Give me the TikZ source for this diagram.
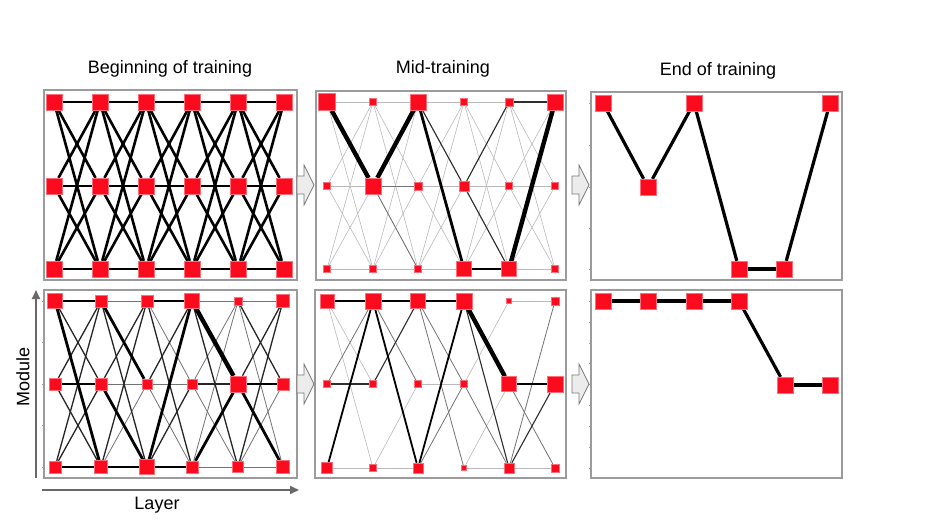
\documentclass[tikz,border=0pt]{standalone}
\usepackage{fontspec}
\setmainfont{Liberation Sans}
\usetikzlibrary{backgrounds,arrows.meta}
\definecolor{nred}{RGB}{250,12,30}
\definecolor{nrededge}{RGB}{255,110,120}
\definecolor{framegray}{RGB}{155,155,155}
\definecolor{axgray}{RGB}{105,105,105}
\definecolor{arrfill}{RGB}{236,236,236}
\definecolor{arrdraw}{RGB}{120,120,120}
\newcommand\blockarr[2]{\draw[blockarrow] (#1,#2) ++(0,-9) -- ++(7,0) -- ++(0,-11) -- ++(10,20) -- ++(-10,20) -- ++(0,-11) -- ++(-7,0) -- cycle;}
\begin{document}
\begin{tikzpicture}[x=1pt,y=-1pt,
  sq/.style={rectangle,fill=nred,draw=nrededge,line width=0.4pt,inner sep=0pt,minimum size=#1},
  l0/.style={draw=black!27,line width=0.6pt},
  l1/.style={draw=black!55,line width=0.8pt},
  l2/.style={draw=black!82,line width=1.1pt},
  l2d/.style={draw=black!85,line width=1.3pt},
  l3/.style={draw=black,line width=1.8pt},
  l4/.style={draw=black,line width=2.8pt},
  l5/.style={draw=black,line width=4.4pt},
  lfull/.style={draw=black,line width=2.6pt},
  lend/.style={draw=black,line width=3.2pt},
  panel/.style={draw=framegray,line width=1.2pt},
  tick/.style={draw=framegray,line width=0.6pt},
  blockarrow/.style={fill=arrfill,draw=arrdraw,line width=0.7pt,line join=miter},
  axis/.style={draw=axgray,line width=1.8pt,-{Triangle[length=9pt,width=8pt]}},
  title/.style={font=\fontsize{18}{21}\selectfont,anchor=base},
]
\useasboundingbox (0,0) rectangle (933,526);

% ---------- nodes ----------
% panel a (beginning, top)
\foreach \x [count=\i] in {54,100,146,192,238,284} {
  \node[sq=16] (at\i) at (\x,102) {};
  \node[sq=16] (am\i) at (\x,186) {};
  \node[sq=16] (ab\i) at (\x,269) {};
}
% panel b (mid, top)
\node[sq=17] (bt1) at (327,102) {};
\node[sq=7]  (bt2) at (373,102) {};
\node[sq=16] (bt3) at (418,102) {};
\node[sq=7]  (bt4) at (464,102) {};
\node[sq=8]  (bt5) at (509,102) {};
\node[sq=16] (bt6) at (555,102) {};
\node[sq=7]  (bm1) at (327,186) {};
\node[sq=16] (bm2) at (373,186) {};
\node[sq=8]  (bm3) at (418,186) {};
\node[sq=10] (bm4) at (464,186) {};
\node[sq=7]  (bm5) at (509,186) {};
\node[sq=7]  (bm6) at (555,186) {};
\node[sq=7]  (bb1) at (327,269) {};
\node[sq=7]  (bb2) at (373,269) {};
\node[sq=7]  (bb3) at (418,269) {};
\node[sq=15] (bb4) at (464,269) {};
\node[sq=15] (bb5) at (509,269) {};
\node[sq=7]  (bb6) at (555,269) {};
% panel c (end, top)
\node[sq=16] (ct1) at (603,103) {};
\node[sq=16] (cm2) at (648,187) {};
\node[sq=16] (ct3) at (694,103) {};
\node[sq=16] (cb4) at (739,269) {};
\node[sq=16] (cb5) at (784,269) {};
\node[sq=16] (ct6) at (830,103) {};
% panel d (beginning, bottom)
\node[sq=15] (dt1) at (55,301) {};
\node[sq=12] (dt2) at (101,301) {};
\node[sq=12] (dt3) at (147,301) {};
\node[sq=15] (dt4) at (192,301) {};
\node[sq=8]  (dt5) at (238,301) {};
\node[sq=13] (dt6) at (283,301) {};
\node[sq=12] (dm1) at (55,384) {};
\node[sq=12] (dm2) at (101,384) {};
\node[sq=10] (dm3) at (147,384) {};
\node[sq=10] (dm4) at (192,384) {};
\node[sq=16] (dm5) at (238,384) {};
\node[sq=12] (dm6) at (283,384) {};
\node[sq=12] (db1) at (55,467) {};
\node[sq=13] (db2) at (101,467) {};
\node[sq=15] (db3) at (147,467) {};
\node[sq=12] (db4) at (192,467) {};
\node[sq=11] (db5) at (238,467) {};
\node[sq=13] (db6) at (283,467) {};
% panel e (mid, bottom)
\node[sq=14] (et1) at (327,301) {};
\node[sq=16] (et2) at (373,301) {};
\node[sq=15] (et3) at (418,301) {};
\node[sq=16] (et4) at (464,301) {};
\node[sq=5]  (et5) at (509,301) {};
\node[sq=8]  (et6) at (555,301) {};
\node[sq=7]  (em1) at (327,384) {};
\node[sq=7]  (em2) at (373,384) {};
\node[sq=7]  (em3) at (418,384) {};
\node[sq=7]  (em4) at (464,384) {};
\node[sq=15] (em5) at (509,384) {};
\node[sq=16] (em6) at (555,384) {};
\node[sq=11] (eb1) at (327,468) {};
\node[sq=7]  (eb2) at (373,468) {};
\node[sq=10] (eb3) at (418,468) {};
\node[sq=5]  (eb4) at (464,468) {};
\node[sq=10] (eb5) at (509,468) {};
\node[sq=8]  (eb6) at (555,468) {};
% panel f (end, bottom)
\node[sq=16] (ft1) at (603,301) {};
\node[sq=16] (ft2) at (648,301) {};
\node[sq=16] (ft3) at (694,301) {};
\node[sq=16] (ft4) at (739,301) {};
\node[sq=16] (fm5) at (785,385) {};
\node[sq=16] (fm6) at (830,385) {};

% ---------- background: frames and edges ----------
\begin{scope}[on background layer]
\fill[white] (0,0) rectangle (933,526);
\draw[panel] (44,90) rectangle (297,280);
\draw[panel] (316,91) rectangle (566,280);
\draw[panel] (591,92) rectangle (842,280);
\draw[panel] (44,290) rectangle (297,478);
\draw[panel] (315,290) rectangle (566,478);
\draw[panel] (591,290) rectangle (842,478);

% panel a: fully connected
\foreach \i in {1,...,5} {
  \pgfmathtruncatemacro\j{\i+1}
  \foreach \r in {t,m,b} {
    \foreach \s in {t,m,b} {
      \draw[lfull] (a\r\i) -- (a\s\j);
    }
  }
}
% panel b: faint base + strong paths
\foreach \i in {1,...,5} {
  \pgfmathtruncatemacro\j{\i+1}
  \foreach \r in {t,m,b} {
    \foreach \s in {t,m,b} {
      \draw[l0] (b\r\i) -- (b\s\j);
    }
  }
}
\foreach \p/\q in {bm2/bm3, bm2/bb3} \draw[l1] (\p) -- (\q);
\foreach \p/\q in {bt5/bt6, bt3/bm4, bm4/bt5, bm4/bb5} \draw[l2] (\p) -- (\q);
\foreach \p/\q in {bt3/bb4, bb4/bb5} \draw[l4] (\p) -- (\q);
\foreach \p/\q in {bt1/bm2, bm2/bt3, bb5/bt6} \draw[l5] (\p) -- (\q);
% panel c
\foreach \p/\q in {ct1/cm2, cm2/ct3, ct3/cb4, cb4/cb5, cb5/ct6} \draw[lend] (\p) -- (\q);

% panel d
\foreach \p/\q in {dt2/dt3, dm2/dm3, db2/dm3, dt3/dm4, dm3/dm4, dm3/db4, dt4/dt5, dm4/dt5, dm4/db5, db4/dt5, db4/db5, dt5/dt6, dt5/db6, db5/dm6, db5/db6} \draw[l1] (\p) -- (\q);
\foreach \p/\q in {dt1/dm2, dm1/dt2, dm1/db2, db1/dt2, db1/dm2, dt2/db3, dm2/dt3, db2/dt3, dt3/db4, dm3/dt4, db3/dm4, dt4/db5, dm4/dm5, dt5/dm6, dm5/dt6, db5/dt6} \draw[l2d] (\p) -- (\q);
\foreach \p/\q in {db1/db2, db3/db4} \draw[l3] (\p) -- (\q);
\foreach \p/\q in {dt1/dt2, dt1/db2, dm1/dm2, dt2/dm3, dm2/db3, db2/db3, dt3/dt4, db3/dt4, db4/dm5, dm5/dm6, dm5/db6} \draw[l4] (\p) -- (\q);
\draw[l5] (dt4) -- (dm5);

% panel e
\foreach \p/\q in {et1/em2, et1/eb2, eb1/eb2, eb2/eb3, eb4/eb5, eb5/eb6, et5/et6, em3/em4, em4/et5, eb4/em5, eb2/em3} \draw[l0] (\p) -- (\q);
\foreach \p/\q in {em1/et2, et2/em3, et3/em4, et3/eb4, eb3/em4, em4/eb5, em5/eb6, eb5/et6} \draw[l1] (\p) -- (\q);
\foreach \p/\q in {et4/eb5, em2/et3, eb5/em6, em1/em2} \draw[l2] (\p) -- (\q);
\foreach \p/\q in {eb1/et2, et2/eb3, eb3/et4} \draw[l3] (\p) -- (\q);
\foreach \p/\q in {et1/et2, et2/et3, et3/et4, em5/em6} \draw[l4] (\p) -- (\q);
\draw[l5] (et4) -- (em5);

% panel f
\foreach \p/\q in {ft1/ft2, ft2/ft3, ft3/ft4, ft4/fm5, fm5/fm6} \draw[lend] (\p) -- (\q);
\end{scope}

% ---------- ticks ----------
\foreach \y in {103,145,187,228,269} \draw[tick] (589,\y) -- (591,\y);
\foreach \y in {301,342,384,425,467} \draw[tick] (42,\y) -- (44,\y);
\foreach \k in {0,...,8} \draw[tick] (589,{301+20.9*\k}) -- (591,{301+20.9*\k});

% ---------- block arrows ----------
\blockarr{297}{185}
\blockarr{572}{185}
\blockarr{297}{384}
\blockarr{572}{384}

% ---------- axes ----------
\coordinate (modA) at (36,478);
\coordinate (modB) at (36,290);
\coordinate (layA) at (42,490);
\coordinate (layB) at (299,490);
\draw[axis] (modA) -- (modB);
\draw[axis] (layA) -- (layB);

% ---------- labels ----------
\node[title] (tBeg) at (170,74) {Beginning of training};
\node[title] (tMid) at (443,74) {Mid-training};
\node[title] (tEnd) at (718,76) {End of training};
\node[font=\fontsize{18}{21}\selectfont,rotate=90] (lblMod) at (23,377) {Module};
\node[title] (lblLay) at (157,509) {Layer};
\end{tikzpicture}
\end{document}
